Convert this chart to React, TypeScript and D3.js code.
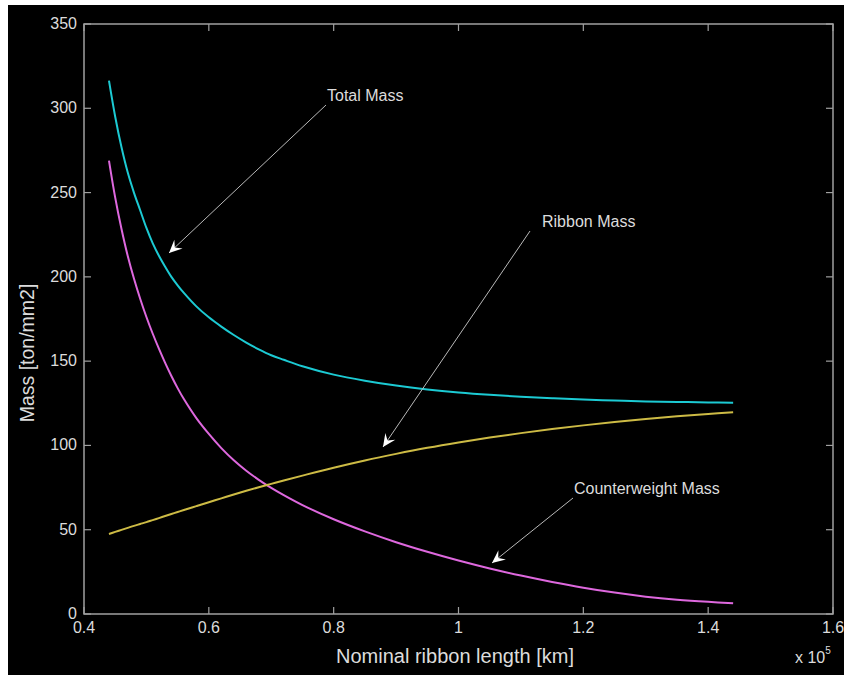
import React from 'react';
import * as d3 from 'd3';

// nominal ribbon length (x 10^5 km)
const lengths = [0.44, 0.45, 0.46, 0.47, 0.48, 0.49, 0.50, 0.51, 0.52, 0.53, 0.54, 0.55, 0.56, 0.58, 0.60, 0.62, 0.64, 0.66, 0.68, 0.70, 0.72, 0.75, 0.80, 0.85, 0.90, 0.95, 1.00, 1.05, 1.10, 1.15, 1.20, 1.25, 1.30, 1.35, 1.40, 1.44];
const totalMass = [316.4, 295, 277, 262, 250, 239.5, 229, 220, 212.5, 206, 200, 195, 190.5, 182.5, 176, 170.5, 165.5, 161, 157, 153.5, 150.8, 147, 142, 138.4, 135.5, 133.2, 131.4, 130, 128.9, 128, 127.2, 126.6, 126.1, 125.8, 125.5, 125.3];
const ribbonMass = [47.5, 48.7, 49.9, 51.1, 52.3, 53.4, 54.5, 55.7, 56.9, 58.1, 59.3, 60.5, 61.7, 64, 66.3, 68.6, 70.9, 73.1, 75.2, 77.2, 79.2, 82.1, 86.8, 91.1, 95, 98.6, 101.8, 104.7, 107.3, 109.7, 111.9, 113.9, 115.7, 117.3, 118.7, 119.7];
const counterMass = [269, 247, 228.5, 212.5, 199, 187, 176.2, 166.4, 157.4, 149, 141.2, 134, 127.5, 116.2, 106.8, 98.4, 91.2, 85, 79.6, 74.8, 70.5, 64.6, 56.2, 49, 42.6, 36.9, 31.7, 27, 22.8, 19, 15.6, 12.7, 10.3, 8.5, 7.2, 6.4];

const xTicks = [0.4, 0.6, 0.8, 1.0, 1.2, 1.4, 1.6];
const yTicks = [0, 50, 100, 150, 200, 250, 300, 350];

const W = 844;
const H = 675;
const left = 84, right = 833, top = 24, bottom = 614;
const font = '"Liberation Sans", Arial, sans-serif';
const axisColor = '#a0a0a0';
const textColor = '#dcdcdc';

const x = d3.scaleLinear().domain([0.4, 1.6]).range([left, right]);
const y = d3.scaleLinear().domain([0, 350]).range([bottom, top]);

const line = d3.line<[number, number]>()
  .x(d => x(d[0]))
  .y(d => y(d[1]))
  .curve(d3.curveCatmullRom.alpha(0.5));

const series = [
  { name: 'Total Mass', values: totalMass, color: '#1ccad3' },
  { name: 'Counterweight Mass', values: counterMass, color: '#de68de' },
  { name: 'Ribbon Mass', values: ribbonMass, color: '#cdbb45' },
];

// annotation arrows: text position, line start, arrow tip
const notes = [
  { text: 'Total Mass', tx: 327, ty: 101, from: [326, 105], to: [169, 253] },
  { text: 'Ribbon Mass', tx: 542, ty: 227, from: [530, 231], to: [383, 447] },
  { text: 'Counterweight Mass', tx: 574, ty: 494, from: [573, 498], to: [492, 563] },
];

function arrowHead(from: number[], to: number[]) {
  const ang = Math.atan2(to[1] - from[1], to[0] - from[0]);
  const len = 13, wid = 6, notch = 8;
  const ux = Math.cos(ang), uy = Math.sin(ang);
  const px = -uy, py = ux;
  const bx = to[0] - ux * len, by = to[1] - uy * len;
  const nx = to[0] - ux * notch, ny = to[1] - uy * notch;
  return `M${to[0]},${to[1]}L${bx + px * wid},${by + py * wid}L${nx},${ny}L${bx - px * wid},${by - py * wid}Z`;
}

export default function App() {
  return (
    <svg width={W} height={H} style={{ position: 'absolute', left: 0, top: 0, background: '#fff' }}>
      <rect x={8} y={5} width={W - 8} height={H - 5} fill="#000" />

      {series.map(s => (
        <path key={s.name}
          d={line(lengths.map((l, i) => [l, s.values[i]] as [number, number])) || ''}
          fill="none" stroke={s.color} strokeWidth={2} />
      ))}

      <rect x={left} y={top} width={right - left} height={bottom - top} fill="none" stroke={axisColor} strokeWidth={1.5} />

      {xTicks.map(t => (
        <g key={'x' + t}>
          <line x1={x(t)} x2={x(t)} y1={bottom} y2={bottom - 7} stroke={axisColor} strokeWidth={1.2} />
          <line x1={x(t)} x2={x(t)} y1={top} y2={top + 7} stroke={axisColor} strokeWidth={1.2} />
          <text x={x(t)} y={633} textAnchor="middle" fill={textColor} fontFamily={font} fontSize={16}>
            {d3.format('~g')(t)}
          </text>
        </g>
      ))}

      {yTicks.map(t => (
        <g key={'y' + t}>
          <line x1={left} x2={left + 7} y1={y(t)} y2={y(t)} stroke={axisColor} strokeWidth={1.2} />
          <line x1={right} x2={right - 7} y1={y(t)} y2={y(t)} stroke={axisColor} strokeWidth={1.2} />
          <text x={77} y={y(t) + 5} textAnchor="end" fill={textColor} fontFamily={font} fontSize={16}>
            {t}
          </text>
        </g>
      ))}

      <text x={455} y={663} textAnchor="middle" fill={textColor} fontFamily={font} fontSize={20}>
        Nominal ribbon length [km]
      </text>
      <text transform="translate(34,353) rotate(-90)" textAnchor="middle" fill={textColor} fontFamily={font} fontSize={19.5}>
        Mass [ton/mm2]
      </text>
      <text x={795} y={663} fill={textColor} fontFamily={font} fontSize={16}>
        x 10<tspan dy={-9} fontSize={10}>5</tspan>
      </text>

      {notes.map(n => (
        <g key={n.text}>
          <line x1={n.from[0]} y1={n.from[1]} x2={n.to[0]} y2={n.to[1]} stroke="#b8b8b8" strokeWidth={1} />
          <path d={arrowHead(n.from, n.to)} fill="#fff" />
          <text x={n.tx} y={n.ty} fill={textColor} fontFamily={font} fontSize={16}>{n.text}</text>
        </g>
      ))}
    </svg>
  );
}
